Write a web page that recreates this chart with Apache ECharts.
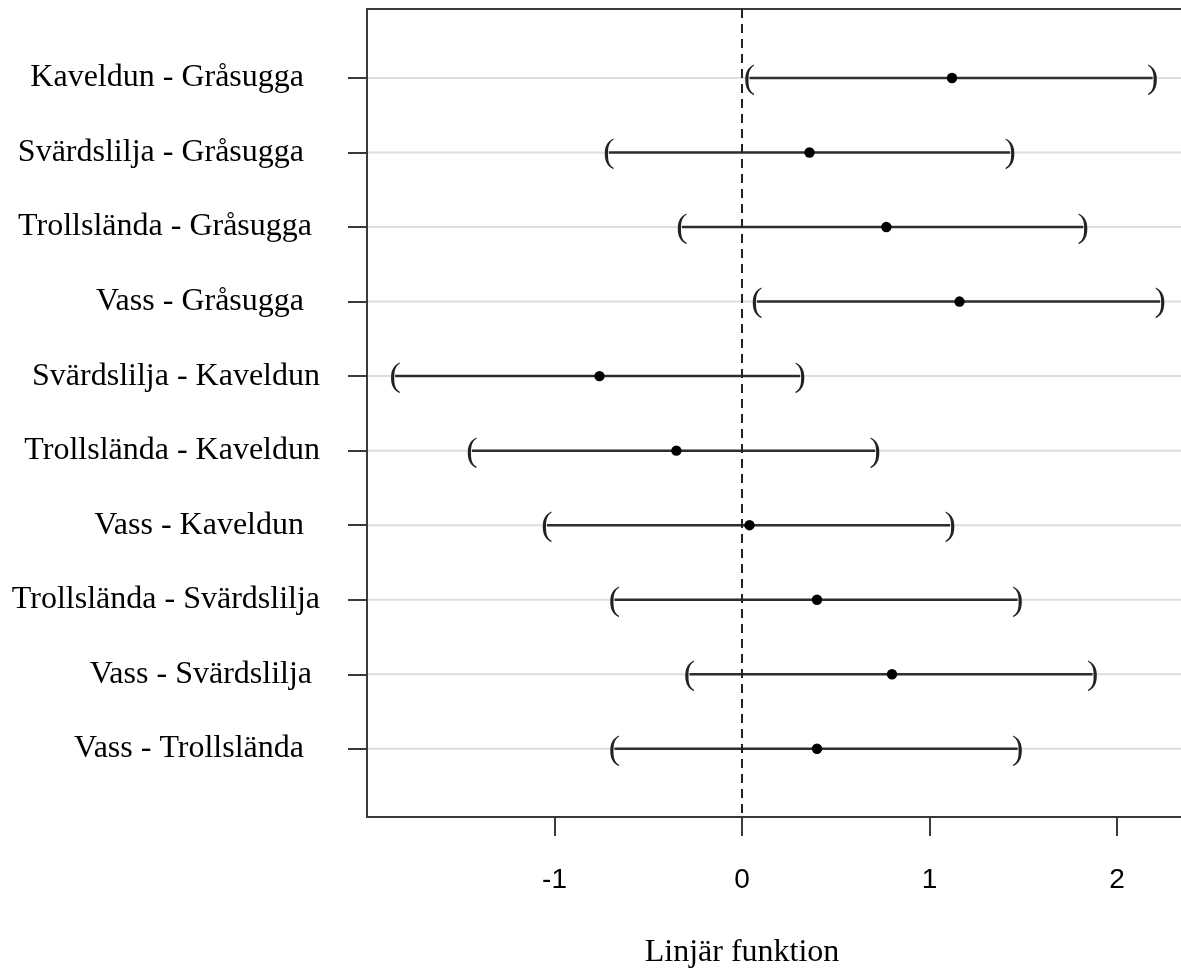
<!DOCTYPE html>
<html>
<head>
<meta charset="utf-8">
<script src="https://cdn.jsdelivr.net/npm/echarts@6/dist/echarts.min.js"></script>
<style>
  html, body { margin: 0; padding: 0; background: #ffffff; }
  #chart { width: 1181px; height: 973px; }
</style>
</head>
<body>
<div id="chart"></div>
<script>
// Pairwise comparisons (top to bottom); trailing spaces keep the padding of the original labels
const comparisons = [
  'Kaveldun - Gråsugga   ',
  'Svärdslilja - Gråsugga   ',
  'Trollslända - Gråsugga  ',
  'Vass - Gråsugga   ',
  'Svärdslilja - Kaveldun ',
  'Trollslända - Kaveldun ',
  'Vass - Kaveldun   ',
  'Trollslända - Svärdslilja ',
  'Vass - Svärdslilja  ',
  'Vass - Trollslända   '
];
// Estimated difference and confidence limits
const estimate = [1.12, 0.36, 0.77, 1.16, -0.76, -0.35, 0.04, 0.40, 0.80, 0.40];
const lower    = [0.04, -0.71, -0.32, 0.08, -1.85, -1.44, -1.04, -0.68, -0.28, -0.68];
const upper    = [2.19, 1.43, 1.82, 2.23, 0.31, 0.71, 1.11, 1.47, 1.87, 1.47];
const xTicks   = [-1, 0, 1, 2];
const axisTitle = 'Linjär funktion';

const X_MIN = -2, X_MAX = 2.5;
const rowIndex = comparisons.map((_, i) => i + 1);
const rows = comparisons.map((_, i) => [i + 1, lower[i], estimate[i], upper[i]]);

const serif = '"Liberation Serif", "Times New Roman", serif';
const dark = '#2e2e2e';
const frame = '#3a3a3a';

const chart = echarts.init(document.getElementById('chart'), null, { renderer: 'canvas' });

chart.setOption({
  animation: false,
  backgroundColor: '#ffffff',
  grid: {
    show: true,
    outerBoundsMode: 'none',
    containLabel: false,
    left: 367,
    width: 843.75,
    top: 9,
    bottom: 156,
    borderColor: frame,
    borderWidth: 2,
    backgroundColor: 'transparent'
  },
  xAxis: {
    type: 'value',
    min: X_MIN,
    max: X_MAX,
    axisLine: { show: false, onZero: false },
    splitLine: { show: false },
    axisTick: {
      show: true,
      customValues: xTicks,
      length: 19,
      lineStyle: { color: frame, width: 2 }
    },
    axisLabel: {
      customValues: xTicks,
      formatter: v => String(v),
      color: '#000000',
      fontFamily: '"Liberation Sans", Arial, sans-serif',
      fontSize: 28,
      margin: 49
    }
  },
  yAxis: {
    type: 'value',
    inverse: true,
    min: 0.075,
    max: 10.915,
    axisLine: { show: false, onZero: false },
    splitLine: { show: false },
    axisTick: {
      show: true,
      customValues: rowIndex,
      length: 19,
      lineStyle: { color: frame, width: 2 }
    },
    axisLabel: {
      customValues: rowIndex,
      formatter: v => comparisons[v - 1],
      color: '#000000',
      fontFamily: serif,
      fontSize: 32,
      margin: 39,
      padding: [0, 0, 14, 0]
    }
  },
  graphic: [{
    type: 'text',
    x: 742,
    y: 953,
    silent: true,
    style: {
      text: axisTitle,
      font: '32px ' + serif,
      fill: '#000000',
      align: 'center',
      verticalAlign: 'middle'
    }
  }],
  series: [
    {
      type: 'custom',
      data: rows,
      encode: { x: [1, 2, 3], y: 0 },
      clip: false,
      renderItem: function (params, api) {
        const row = api.value(0);
        const lo = api.coord([api.value(1), row]);
        const est = api.coord([api.value(2), row]);
        const hi = api.coord([api.value(3), row]);
        const gL = api.coord([X_MIN, row]);
        const gR = api.coord([X_MAX, row]);
        const bracket = (ch, p) => ({
          type: 'text',
          x: p[0], y: p[1] + 1,
          style: {
            text: ch,
            font: '34px ' + serif,
            fill: '#222222',
            align: 'center',
            verticalAlign: 'middle'
          }
        });
        return {
          type: 'group',
          children: [
            { type: 'line', shape: { x1: gL[0] + 1, y1: gL[1], x2: gR[0], y2: gR[1] },
              style: { stroke: '#dedede', lineWidth: 2 } },
            { type: 'line', shape: { x1: lo[0], y1: lo[1], x2: hi[0], y2: hi[1] },
              style: { stroke: dark, lineWidth: 2.5 } },
            bracket('(', lo),
            bracket(')', hi),
            { type: 'circle', shape: { cx: est[0], cy: est[1], r: 5.2 },
              style: { fill: '#000000' } }
          ]
        };
      },
      markLine: {
        silent: true,
        symbol: 'none',
        label: { show: false },
        lineStyle: { color: '#222222', width: 2, type: [9, 6] },
        data: [{ xAxis: 0 }]
      },
      z: 2
    }
  ]
});
</script>
</body>
</html>
